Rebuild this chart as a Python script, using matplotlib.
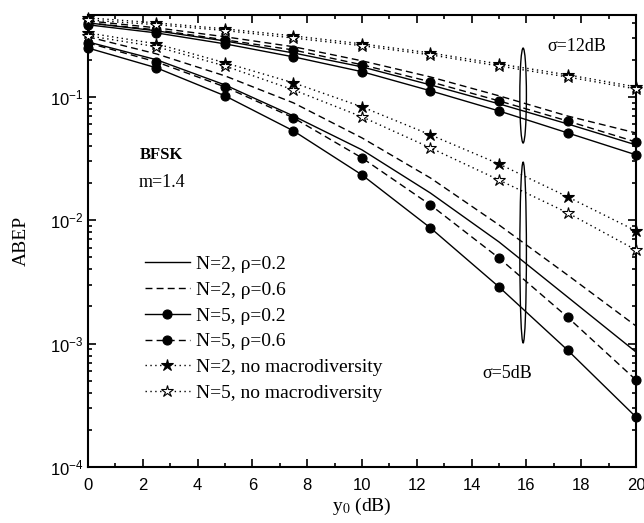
import matplotlib
matplotlib.use("Agg")
import matplotlib.pyplot as plt
from matplotlib.patches import Ellipse
from matplotlib.ticker import MultipleLocator, LogLocator, NullFormatter

plt.rcParams['font.family'] = ['Liberation Sans', 'DejaVu Sans']
plt.rcParams['mathtext.fontset'] = 'stix'

# average SNR (dB)
y0 = [0, 2.5, 5, 7.5, 10, 12.5, 15, 17.5, 20]

# sigma = 12 dB
s12_n2_r02 = [0.398, 0.343, 0.284, 0.227, 0.175, 0.125, 0.0878, 0.0604, 0.0408]
s12_n2_r06 = [0.413, 0.363, 0.307, 0.255, 0.196, 0.145, 0.102, 0.070, 0.051]
s12_n5_r02 = [0.384, 0.330, 0.269, 0.211, 0.160, 0.112, 0.0769, 0.0511, 0.0339]
s12_n5_r06 = [0.398, 0.349, 0.290, 0.240, 0.182, 0.1325, 0.0928, 0.0638, 0.0431]
s12_n2_nomacro = [0.437, 0.398, 0.356, 0.312, 0.269, 0.227, 0.185, 0.151, 0.1205]
s12_n5_nomacro = [0.420, 0.385, 0.345, 0.300, 0.260, 0.219, 0.178, 0.145, 0.116]

# sigma = 5 dB
s5_n2_r02 = [0.279, 0.200, 0.125, 0.070, 0.0372, 0.0166, 0.00667, 0.00239, 0.000855]
s5_n2_r06 = [0.307, 0.223, 0.148, 0.0894, 0.0465, 0.022, 0.00916, 0.0036, 0.00139]
s5_n5_r02 = [0.249, 0.172, 0.102, 0.053, 0.0233, 0.00866, 0.00288, 0.000887, 0.000254]
s5_n5_r06 = [0.274, 0.192, 0.1205, 0.0676, 0.032, 0.0133, 0.00494, 0.00164, 0.000507]
s5_n2_nomacro = [0.330, 0.269, 0.189, 0.130, 0.083, 0.0492, 0.0286, 0.0155, 0.0082]
s5_n5_nomacro = [0.313, 0.255, 0.178, 0.114, 0.0689, 0.0386, 0.0212, 0.0115, 0.00574]

labels = ["N=2, \u03c1=0.2", "N=2, \u03c1=0.6", "N=5, \u03c1=0.2", "N=5, \u03c1=0.6",
          "N=2, no macrodiversity", "N=5, no macrodiversity"]

fig = plt.figure(figsize=(6.44, 5.23), dpi=100)
ax = fig.add_axes([0.1366, 0.1071, 0.851, 0.864])

dash = (0, (5, 3))
dot = (0, (1, 2.5))
styles = [
    dict(ls='-', marker=None),
    dict(ls=dash, marker=None),
    dict(ls='-', marker='o', ms=6.5, mfc='black'),
    dict(ls=dash, marker='o', ms=6.5, mfc='black'),
    dict(ls=dot, marker='*', ms=9, mfc='black'),
    dict(ls=dot, marker='*', ms=9, mfc='white'),
]

groups = [
    [s12_n2_r02, s12_n2_r06, s12_n5_r02, s12_n5_r06, s12_n2_nomacro, s12_n5_nomacro],
    [s5_n2_r02, s5_n2_r06, s5_n5_r02, s5_n5_r06, s5_n2_nomacro, s5_n5_nomacro],
]

for g, series in enumerate(groups):
    for i, vals in enumerate(series):
        st = styles[i]
        ax.plot(y0, vals, color='black', lw=1.0, linestyle=st['ls'],
                marker=st['marker'], markersize=st.get('ms', 0),
                markerfacecolor=st.get('mfc', 'black'), markeredgecolor='black',
                markeredgewidth=0.8, label=labels[i] if g == 0 else None,
                clip_on=False, zorder=3)

ax.set_yscale('log')
ax.set_xlim(0, 20)
ax.set_ylim(1e-4, 0.46)
ax.xaxis.set_major_locator(MultipleLocator(2))
ax.xaxis.set_minor_locator(MultipleLocator(1))
ax.yaxis.set_major_locator(LogLocator(base=10, numticks=10))
ax.yaxis.set_minor_locator(LogLocator(base=10, subs=range(2, 10), numticks=20))
ax.yaxis.set_minor_formatter(NullFormatter())
ax.tick_params(which='both', direction='in', top=True, right=True, labelsize=12, width=1.2)
ax.tick_params(which='major', length=6)
ax.tick_params(which='minor', length=3)
ax.tick_params(axis='x', which='major', pad=8)
for sp in ax.spines.values():
    sp.set_linewidth(1.5)

serif = ['Liberation Serif', 'DejaVu Serif']
ax.set_ylabel('ABEP', family=serif, fontsize=14, labelpad=14)
ax.set_xlabel('y$_{0}$ (dB)', family=serif, fontsize=14, labelpad=2)

ax.text(2.7, 0.034, 'BFSK', family=serif, fontsize=12, fontweight='bold', ha='center', va='center')
ax.text(2.7, 0.0204, 'm=1.4', family=serif, fontsize=13, ha='center', va='center')
ax.text(17.85, 0.255, '\u03c3=12dB', family=serif, fontsize=13, ha='center', va='center')
ax.text(15.3, 5.75e-4, '\u03c3=5dB', family=serif, fontsize=13, ha='center', va='center')

ax.add_patch(Ellipse((0.794, 0.822), 0.012, 0.21, transform=ax.transAxes,
                     fill=False, edgecolor='black', lw=1.0))
ax.add_patch(Ellipse((0.794, 0.4746), 0.012, 0.40, transform=ax.transAxes,
                     fill=False, edgecolor='black', lw=1.0))

ax.legend(loc='upper left', bbox_to_anchor=(0.104, 0.468), frameon=False,
          prop={'family': serif, 'size': 14}, handlelength=2.3, handletextpad=0.3,
          labelspacing=0.42, borderpad=0, borderaxespad=0, numpoints=1)

fig.savefig('out.png', dpi=100)
